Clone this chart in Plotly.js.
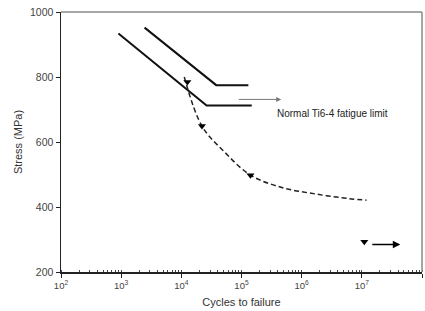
<!DOCTYPE html>
<html><head><meta charset="utf-8">
<script src="https://cdn.plot.ly/plotly-3.0.1.min.js"></script>
<style>html,body{margin:0;padding:0;background:#fff}#c{width:425px;height:311px}</style>
</head><body><div id="c"></div>
<script>
// S-N data (cycles, MPa)
const upperX = [2450, 38000, 130000];
const upperY = [952, 775, 775];
const lowerX = [900, 26300, 148000];
const lowerY = [934, 712, 712];
const dashedX = [11200, 22000, 53000, 141000, 470000, 1700000, 6000000, 12000000];
const dashedY = [800, 649, 568, 498, 460, 440, 426, 421];
const markerX = [12600, 22000, 141000, 11000000];
const markerY = [785, 649, 498, 293];
const grayArrowX = [85000, 457000];
const grayArrowY = [731, 731];
const blackArrowX = [14100000, 43600000];
const blackArrowY = [285, 285];
const labelText = "Normal Ti6-4 fatigue limit";
const labelX = 3200000, labelY = 689;
const tickVals = [1e2, 1e3, 1e4, 1e5, 1e6, 1e7, 1e8];
const tickText = ["10<sup>2</sup>","10<sup>3</sup>","10<sup>4</sup>","10<sup>5</sup>","10<sup>6</sup>","10<sup>7</sup>","10<sup>8</sup>"];

const L = Math.log10;
const traces = [
  {x: upperX, y: upperY, mode: 'lines', line: {color: '#111', width: 2}},
  {x: lowerX, y: lowerY, mode: 'lines', line: {color: '#111', width: 2}},
  {x: dashedX, y: dashedY, mode: 'lines', line: {color: '#222', width: 1.5, dash: '5px,3px', shape: 'spline', smoothing: 1}},
  {x: markerX, y: markerY, mode: 'markers', marker: {symbol: 'triangle-down', size: 7, color: '#000'}}
];
const layout = {
  width: 425, height: 311,
  margin: {l: 61, r: 3, t: 12, b: 39},
  showlegend: false,
  paper_bgcolor: '#fff', plot_bgcolor: '#fff',
  font: {family: 'Liberation Sans, Arial, sans-serif', color: '#333', size: 10},
  xaxis: {
    type: 'log', range: [2, 8], showgrid: false, zeroline: false,
    showline: true, linecolor: '#222', linewidth: 1.5,
    tickvals: tickVals, ticktext: tickText, ticks: 'outside', ticklen: 4, tickcolor: '#222',
    tickfont: {size: 9.5, color: '#444'},
    minor: {ticks: 'inside', ticklen: 2.5, dtick: 'D1', tickcolor: '#444'},
    title: {text: 'Cycles to failure', font: {size: 11, color: '#333'}, standoff: 8}
  },
  yaxis: {
    range: [200, 1000], showgrid: false, zeroline: false,
    showline: true, linecolor: '#222', linewidth: 1.5,
    tickvals: [200, 400, 600, 800, 1000], ticks: 'outside', ticklen: 4, tickcolor: '#222',
    tickfont: {size: 10.5, color: '#444'},
    title: {text: 'Stress (MPa)', font: {size: 11, color: '#333'}, standoff: 5}
  },
  shapes: [
    {type: 'line', xref: 'paper', yref: 'paper', x0: 0, x1: 1, y0: 1, y1: 1, line: {color: '#888', width: 1.5}},
    {type: 'line', xref: 'paper', yref: 'paper', x0: 1, x1: 1, y0: 0, y1: 1, line: {color: '#888', width: 1.5}}
  ],
  annotations: [
    {x: L(grayArrowX[1]), y: grayArrowY[1], ax: L(grayArrowX[0]), ay: grayArrowY[0], xref: 'x', yref: 'y', axref: 'x', ayref: 'y',
     text: '', showarrow: true, arrowhead: 2, arrowsize: 1, arrowwidth: 1, arrowcolor: '#777'},
    {x: L(blackArrowX[1]), y: blackArrowY[1], ax: L(blackArrowX[0]), ay: blackArrowY[0], xref: 'x', yref: 'y', axref: 'x', ayref: 'y',
     text: '', showarrow: true, arrowhead: 2, arrowsize: 1, arrowwidth: 1.5, arrowcolor: '#000'},
    {x: L(labelX), y: labelY, xref: 'x', yref: 'y', text: labelText, showarrow: false,
     font: {size: 10, color: '#222'}, xanchor: 'center', yanchor: 'middle'}
  ]
};
Plotly.newPlot('c', traces, layout, {displayModeBar: false, staticPlot: true});
</script></body></html>
